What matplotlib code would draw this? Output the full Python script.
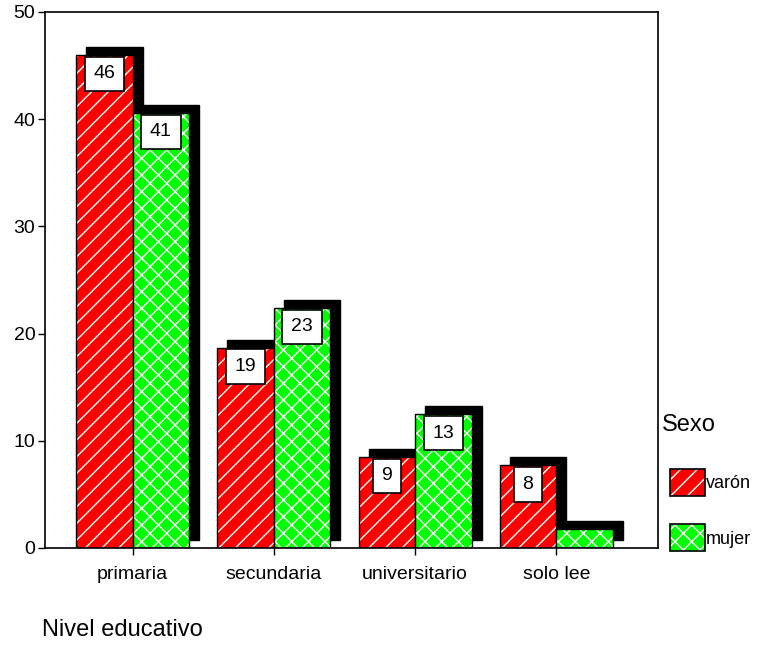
import matplotlib.pyplot as plt
import matplotlib.transforms as mtransforms
from matplotlib.patches import Rectangle
import numpy as np

plt.rcParams['font.family'] = ['Liberation Sans', 'DejaVu Sans']

categories = ['primaria', 'secundaria', 'universitario', 'solo lee']
varon = [46.0, 18.7, 8.5, 7.7]
mujer = [40.6, 22.4, 12.5, 1.8]
varon_labels = ['46', '19', '9', '8']
mujer_labels = ['41', '23', '13', '']
series_names = ['varón', 'mujer']

RED = '#ff0000'
GREEN = '#00ff00'


def draw_group(ax, fig, x, values, labels, color, hatch, z):
    shadow_tr = mtransforms.offset_copy(ax.transData, fig=fig, x=10, y=8, units='dots')
    width = 0.40
    for xi, v, lab in zip(x, values, labels):
        # shadow behind the bar
        ax.add_patch(Rectangle((xi - width / 2, 0), width, v, transform=shadow_tr,
                               facecolor='black', edgecolor='black', zorder=z))
        # hatched fill
        ax.add_patch(Rectangle((xi - width / 2, 0), width, v, facecolor=color,
                               edgecolor='white', hatch=hatch, linewidth=0, zorder=z + 0.1))
        # outline
        ax.add_patch(Rectangle((xi - width / 2, 0), width, v, fill=False,
                               edgecolor='black', linewidth=1.0, zorder=z + 0.2))
        if lab:
            ax.annotate(lab, (xi, v), xytext=(0, -19), textcoords='offset pixels',
                        ha='center', va='center', fontsize=14, zorder=z + 0.3,
                        bbox=dict(boxstyle='square,pad=0.45', fc='white', ec='black', lw=1.2))


fig = plt.figure(figsize=(7.6, 6.45), dpi=100)
ax = fig.add_axes([45 / 760, 97 / 645, 613 / 760, 536 / 645])

x = np.arange(len(categories))
draw_group(ax, fig, x - 0.20, varon, varon_labels, RED, '//', 2)
draw_group(ax, fig, x + 0.20, mujer, mujer_labels, GREEN, 'xx', 3)

ax.set_xlim(-0.62, 3.72)
ax.set_ylim(0, 50)
ax.set_yticks([0, 10, 20, 30, 40, 50])
ax.set_xticks(x)
ax.set_xticklabels(categories)
ax.tick_params(direction='out', length=5, width=1, labelsize=14, colors='black')
ax.tick_params(axis='x', pad=8)
ax.tick_params(axis='y', pad=2)
for s in ax.spines.values():
    s.set_linewidth(1.2)
    s.set_zorder(10)

fig.text(42 / 760, 1 - 630 / 645, 'Nivel educativo', fontsize=17, ha='left', va='center')

# legend
fig.text(662 / 760, 1 - 425 / 645, 'Sexo', fontsize=17, ha='left', va='center')
leg_items = [(RED, '//', 469), (GREEN, 'xx', 524)]
for (color, hatch, top), name in zip(leg_items, series_names):
    xy = (670 / 760, 1 - (top + 27) / 645)
    w, h = 35 / 760, 27 / 645
    fig.add_artist(Rectangle(xy, w, h, transform=fig.transFigure, facecolor=color,
                             edgecolor='white', hatch=hatch, linewidth=0))
    fig.add_artist(Rectangle(xy, w, h, transform=fig.transFigure, fill=False,
                             edgecolor='black', linewidth=1.2))
    fig.text(706 / 760, 1 - (top + 15) / 645, name, fontsize=13, ha='left', va='center')

fig.savefig('out.png', dpi=100)
